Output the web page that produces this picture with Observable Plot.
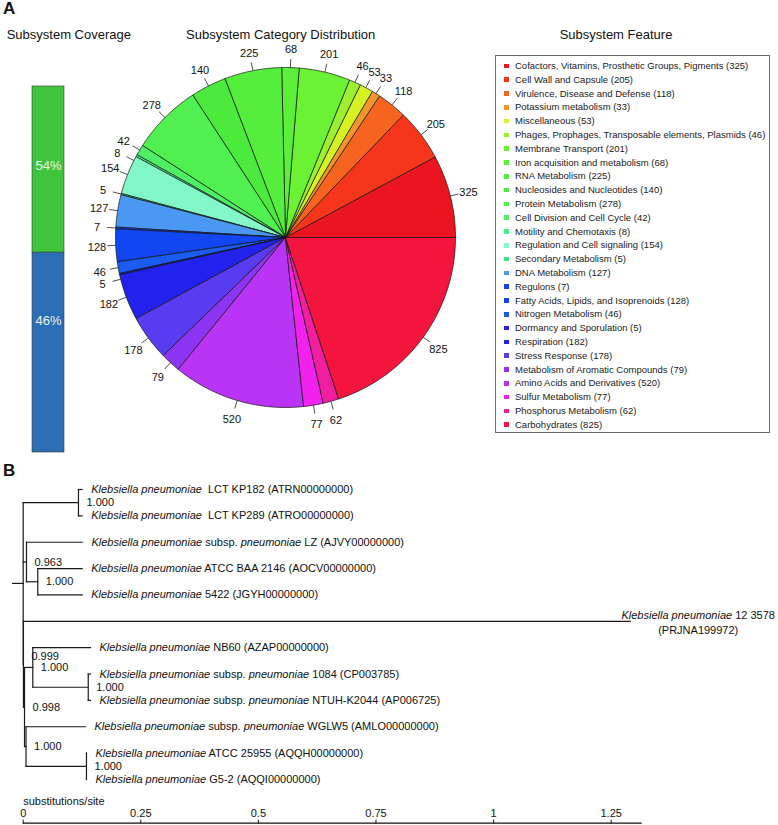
<!DOCTYPE html>
<html>
<head>
<meta charset="utf-8">
<script src="https://cdn.jsdelivr.net/npm/d3@7"></script>
<script src="https://cdn.jsdelivr.net/npm/@observablehq/plot@0.6"></script>
<style>
  html, body { margin: 0; padding: 0; background: #fff; }
  #root { position: relative; width: 778px; height: 825px; overflow: hidden; font-family: "Liberation Sans", Arial, Helvetica, sans-serif; color: #111; }
  .abs { position: absolute; }
  .panel { font-weight: bold; font-size: 17px; line-height: 17px; }
  .title { font-size: 13px; line-height: 13px; text-align: center; white-space: nowrap; width: 240px; }
  #legend { left: 495px; top: 55px; width: 273px; height: 373px; border: 1px solid #6a6a6a; padding-top: 3px; box-sizing: content-box; background: #fff; }
  .lrow { position: relative; height: 13.8px; line-height: 13.8px; font-size: 9.5px; padding-left: 19px; white-space: nowrap; color: #1a1a1a; }
  .lsq { position: absolute; left: 8px; top: 4.6px; width: 4.6px; height: 4.6px; }
</style>
</head>
<body>
<div id="root"></div>
<script>
// ---------------- DATA ----------------
const categories = [
  "Cofactors, Vitamins, Prosthetic Groups, Pigments", "Cell Wall and Capsule", "Virulence, Disease and Defense",
  "Potassium metabolism", "Miscellaneous", "Phages, Prophages, Transposable elements, Plasmids",
  "Membrane Transport", "Iron acquisition and metabolism", "RNA Metabolism", "Nucleosides and Nucleotides",
  "Protein Metabolism", "Cell Division and Cell Cycle", "Motility and Chemotaxis", "Regulation and Cell signaling",
  "Secondary Metabolism", "DNA Metabolism", "Regulons", "Fatty Acids, Lipids, and Isoprenoids",
  "Nitrogen Metabolism", "Dormancy and Sporulation", "Respiration", "Stress Response",
  "Metabolism of Aromatic Compounds", "Amino Acids and Derivatives", "Sulfur Metabolism",
  "Phosphorus Metabolism", "Carbohydrates"
];
const counts = [325, 205, 118, 33, 53, 46, 201, 68, 225, 140, 278, 42, 8, 154, 5, 127, 7, 128, 46, 5, 182, 178, 79, 520, 77, 62, 825];
const sliceColors = [
  "#ea1520", "#f5361a", "#f7641f", "#f3952a", "#d6f222", "#9cf02f", "#6cf234", "#5df03a", "#55ee3c",
  "#4dea3e", "#4ff04f", "#4cf062", "#4cef86", "#82f7c8", "#3fe582", "#4a98f2", "#1444f2", "#1246f0",
  "#1a5cf2", "#1a22e6", "#2222ec", "#5a3cf0", "#8d34f2", "#b934f4", "#f222ee", "#f21ea0", "#f4153f"
];

const coverageLabels = ["54%", "46%"];
const coverageShares = [45.4, 54.6];          // segment heights as drawn, top to bottom
const coverageColors = ["#3ec53c", "#2c6eb6"];

const nodeIds      = ["root", "c1", "t1", "t2", "c2", "t3", "c2b", "t4", "t5", "c3", "t6", "d", "nb", "t7", "nbc", "t8", "t9", "w", "t10", "wc", "t11", "t12"];
const nodeParents  = ["", "root", "c1", "c1", "root", "c2", "c2", "c2b", "c2b", "root", "c3", "c3", "d", "nb", "nb", "nbc", "nbc", "d", "w", "w", "wc", "wc"];
const branchLengths = [0.0227, 0.1175, 0.0079, 0.0079, 0.0070, 0.1190, 0.0240, 0.0944, 0.0944, 0.0005, 1.2900, 0.0023, 0.0176, 0.1226, 0.1179, 0.0047, 0.0047, 0.0032, 0.1264, 0.1285, 0, 0];
const supportValues = ["", "1.000", "", "", "0.963", "", "1.000", "", "", "0.999", "", "0.998", "1.000", "", "1.000", "", "", "1.000", "", "1.000", "", ""];

const tipIds = ["t1", "t2", "t3", "t4", "t5", "t6", "t7", "t8", "t9", "t10", "t11", "t12"];
const tipLabels = [
  "*Klebsiella pneumoniae*  LCT KP182 (ATRN00000000)",
  "*Klebsiella pneumoniae*  LCT KP289 (ATRO00000000)",
  "*Klebsiella pneumoniae* subsp. *pneumoniae* LZ (AJVY00000000)",
  "*Klebsiella pneumoniae* ATCC BAA 2146 (AOCV00000000)",
  "*Klebsiella pneumoniae* 5422 (JGYH00000000)",
  "*Klebsiella pneumoniae* 12 3578\n(PRJNA199972)",
  "*Klebsiella pneumoniae* NB60 (AZAP00000000)",
  "*Klebsiella pneumoniae* subsp. *pneumoniae* 1084 (CP003785)",
  "*Klebsiella pneumoniae* subsp. *pneumoniae* NTUH-K2044 (AP006725)",
  "*Klebsiella pneumoniae* subsp. *pneumoniae* WGLW5 (AMLO00000000)",
  "*Klebsiella pneumoniae* ATCC 25955 (AQQH00000000)",
  "*Klebsiella pneumoniae* G5-2 (AQQI00000000)"
];

const axisTicks = [0, 0.25, 0.5, 0.75, 1, 1.25];
const axisTickLabels = ["0", "0.25", "0.5", "0.75", "1", "1.25"];
const axisMax = 1.316;
const axisTitle = "substitutions/site";

// ---------------- LAYOUT HELPERS ----------------
const FONT = '"Liberation Sans", Arial, Helvetica, sans-serif';
const rootEl = document.getElementById("root");
function place(el, left, top) {
  const d = document.createElement("div");
  d.className = "abs";
  d.style.left = left + "px";
  d.style.top = top + "px";
  d.appendChild(el);
  rootEl.appendChild(d);
  return d;
}
const baseStyle = {fontFamily: FONT, background: "transparent", overflow: "visible", color: "#111"};

// ---------------- COVERAGE BAR ----------------
let acc = 100;
const covRows = coverageLabels.map((lab, i) => {
  const y2 = acc, y1 = acc - coverageShares[i];
  acc = y1;
  return {label: lab, y1, y2, color: coverageColors[i]};
});
const cov = Plot.plot({
  width: 100, height: 380, marginTop: 6, marginBottom: 8, marginLeft: 32, marginRight: 36,
  x: {domain: ["coverage"], padding: 0, axis: null},
  y: {domain: [0, 100], axis: null},
  color: {type: "identity"},
  style: baseStyle,
  marks: [
    Plot.barY(covRows, {x: () => "coverage", y1: "y1", y2: "y2", fill: "color", stroke: "#3a3a3a", strokeWidth: 0.6}),
    Plot.text(covRows.slice(0, 1), {x: () => "coverage", y: d => (d.y1 + d.y2) / 2, text: "label", fill: "#eef4e6", fontSize: 13, dy: -4}),
    Plot.text(covRows.slice(1), {x: () => "coverage", y: d => (d.y1 + d.y2) / 2, text: "label", fill: "#eef4e6", fontSize: 13, dy: -32})
  ]
});
place(cov, 0, 80);

// ---------------- PIE ----------------
const total = d3.sum(counts);
const ends = d3.cumsum(counts);
const slices = categories.map((c, i) => ({
  cat: c, n: counts[i],
  a0: (ends[i] - counts[i]) / total * 2 * Math.PI,
  a1: ends[i] / total * 2 * Math.PI
}));
const poly = slices.flatMap(s => {
  const steps = Math.max(2, Math.ceil((s.a1 - s.a0) / (Math.PI / 360)));
  const pts = [{cat: s.cat, x: 0, y: 0}];
  for (let k = 0; k <= steps; k++) {
    const a = s.a0 + (s.a1 - s.a0) * k / steps;
    pts.push({cat: s.cat, x: Math.cos(a), y: Math.sin(a)});
  }
  pts.push({cat: s.cat, x: 0, y: 0});
  return pts;
});
// label angles, spread apart when crowded
const minSep = 4.0 * Math.PI / 180;
const pieLabels = slices.map(s => ({n: s.n, la: (s.a0 + s.a1) / 2}));
for (let i = 1; i < pieLabels.length; i++) {
  if (pieLabels[i].la - pieLabels[i - 1].la < minSep) pieLabels[i].la = pieLabels[i - 1].la + minSep;
}
const R = 170, pieW = 420, pieH = 420, pcx = 210, pcy = 202;
const pie = Plot.plot({
  width: pieW, height: pieH, marginTop: 0, marginBottom: 0, marginLeft: 0, marginRight: 0,
  x: {domain: [-pcx / R, (pieW - pcx) / R], axis: null},
  y: {domain: [-(pieH - pcy) / R, pcy / R], axis: null},
  color: {domain: categories, range: sliceColors},
  style: baseStyle,
  marks: [
    Plot.line(poly, {x: "x", y: "y", z: "cat", fill: "cat", stroke: "#111", strokeWidth: 0.7, strokeLinejoin: "round"}),
    Plot.link(pieLabels, {
      x1: d => Math.cos(d.la), y1: d => Math.sin(d.la),
      x2: d => 1.05 * Math.cos(d.la), y2: d => 1.05 * Math.sin(d.la),
      stroke: "#222", strokeWidth: 0.8
    }),
    Plot.text(pieLabels, {x: d => 1.11 * Math.cos(d.la), y: d => 1.11 * Math.sin(d.la), text: d => String(d.n), fontSize: 11, fill: "#111", dy: 1})
  ]
});
place(pie, 75, 35);

// ---------------- LEGEND ----------------
const legend = document.createElement("div");
legend.id = "legend";
categories.forEach((c, i) => {
  const row = document.createElement("div");
  row.className = "lrow";
  const sq = document.createElement("span");
  sq.className = "lsq";
  sq.style.background = sliceColors[i];
  row.appendChild(sq);
  row.appendChild(document.createTextNode(`${c} (${counts[i]})`));
  legend.appendChild(row);
});
legend.className = "abs";
rootEl.appendChild(legend);

// ---------------- TREE ----------------
const table = nodeIds.map((id, i) => ({id, parent: nodeParents[i] || null, len: branchLengths[i], support: supportValues[i]}));
const tree = d3.stratify().id(d => d.id).parentId(d => d.parent)(table);
let leafIndex = 0;
tree.eachBefore(n => {
  n.px = n.parent ? n.parent.px + n.data.len : 0;
  if (!n.children) n.py = leafIndex++;
});
tree.eachAfter(n => {
  if (n.children) n.py = (n.children[0].py + n.children[n.children.length - 1].py) / 2;
});
const segs = [];
tree.each(n => {
  if (n.parent) segs.push({x1: n.parent.px, x2: n.px, y1: n.py, y2: n.py});
  else segs.push({x1: -n.data.len, x2: 0, y1: n.py, y2: n.py});
  if (n.children) segs.push({x1: n.px, x2: n.px, y1: n.children[0].py, y2: n.children[n.children.length - 1].py});
});
const tips = tree.leaves().map(n => ({x: n.px, y: n.py, label: tipLabels[tipIds.indexOf(n.id)]}));
const supports = tree.descendants().filter(n => n.data.support).map(n => ({x: n.px, y: n.py, support: n.data.support}))
  .sort((a, b) => a.y - b.y);
for (let i = 0; i < supports.length - 1; i++) {
  const a = supports[i], b = supports[i + 1];
  if (b.y - a.y < 0.4 && Math.abs(b.x - a.x) < 0.06) a.y = b.y - 0.4;
}
const treePlot = Plot.plot({
  width: 778, height: 330, marginTop: 29, marginBottom: 11, marginLeft: 22.7, marginRight: 136.3,
  x: {domain: [0, axisMax], axis: null},
  y: {domain: [0, tipIds.length - 1], reverse: true, axis: null},
  style: baseStyle,
  marks: [
    Plot.link(segs, {x1: "x1", y1: "y1", x2: "x2", y2: "y2", stroke: "#1a1a1a", strokeWidth: 1.2, strokeLinecap: "square"}),
    Plot.text(tips.filter(t => !t.label.includes("\n")), {x: "x", y: "y", text: "label", textAnchor: "start", dx: 9, fontSize: 11, fill: "#111"}),
    Plot.text(tips.filter(t => t.label.includes("\n")), {x: "x", y: "y", text: "label", textAnchor: "middle", dx: 68, fontSize: 11, lineAnchor: "middle", lineHeight: 1.4, fill: "#111"}),
    Plot.text(supports, {x: "x", y: "y", text: "support", textAnchor: "start", dx: 8, fontSize: 11, fill: "#111"})
  ]
});
// italic markup *...*
const svgNS = "http://www.w3.org/2000/svg";
function italicize(el) {
  const s = el.textContent;
  if (!s.includes("*")) return;
  el.textContent = "";
  s.split("*").forEach((part, i) => {
    if (!part) return;
    const t = document.createElementNS(svgNS, "tspan");
    if (i % 2) t.setAttribute("font-style", "italic");
    t.textContent = part;
    el.appendChild(t);
  });
}
treePlot.querySelectorAll("text").forEach(t => {
  const ts = t.querySelectorAll("tspan");
  if (ts.length) ts.forEach(italicize); else italicize(t);
});
place(treePlot, 0, 460);

// ---------------- SCALE AXIS ----------------
const tickLabelMap = new Map(axisTicks.map((t, i) => [t, axisTickLabels[i]]));
const scalePlot = Plot.plot({
  width: 778, height: 40, marginTop: 37.7, marginBottom: 2.3, marginLeft: 22.7, marginRight: 136.3,
  x: {domain: [0, axisMax], axis: "top", ticks: axisTicks, tickFormat: d => tickLabelMap.get(d), tickSize: 4, tickPadding: 2, label: null, fontSize: 11},
  y: {domain: [0, 1], axis: null},
  style: {...baseStyle, fontSize: "11px"},
  marks: [
    Plot.ruleY([1], {x1: 0, x2: axisMax, stroke: "#111", strokeWidth: 1.3}),
    Plot.text([axisTitle], {frameAnchor: "top-left", textAnchor: "start", lineAnchor: "bottom", dy: -18, fontSize: 11, fill: "#111"})
  ]
});
place(scalePlot, 0, 785);

// ---------------- TITLES ----------------
function label(text, cls, left, top) {
  const d = document.createElement("div");
  d.className = "abs " + cls;
  d.style.left = left + "px";
  d.style.top = top + "px";
  d.textContent = text;
  rootEl.appendChild(d);
}
label("A", "panel", 3, 0);
label("B", "panel", 3, 462);
label("Subsystem Coverage", "title", 68.8 - 120, 27.5);
label("Subsystem Category Distribution", "title", 280.7 - 120, 27.5);
label("Subsystem Feature", "title", 616 - 120, 28);
</script>
</body>
</html>
